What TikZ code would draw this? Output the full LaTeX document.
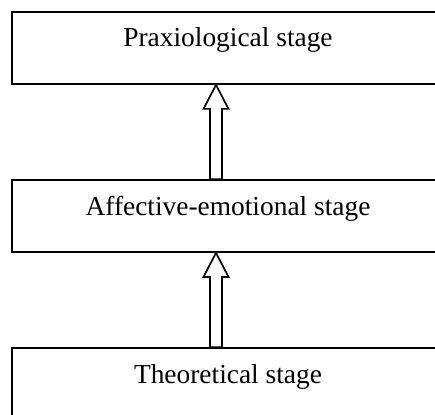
\documentclass[tikz,border=0pt]{standalone}
\usepackage{fontspec}
\setmainfont{Liberation Serif}
\usetikzlibrary{calc}
\begin{document}
\begin{tikzpicture}[x=1pt,y=-1pt,
  stagebox/.style={draw, line width=1.8pt, inner sep=0pt, minimum width=432pt,
    text height=35pt, text depth=37pt, anchor=base,
    font=\fontsize{27.4}{32}\selectfont},
  hollow/.style={draw, fill=white, line width=1.7pt, line join=miter}]
\useasboundingbox (0,0) rectangle (435,414);
\node[stagebox] (p) at (228,47) {Praxiological stage};
\node[stagebox] (a) at (228,215) {Affective-emotional stage};
\node[stagebox] (t) at (228,383) {Theoretical stage};
\coordinate (t1) at (216,0 |- p.south);
\coordinate (b1) at (216,0 |- a.north);
\coordinate (t2) at (216,0 |- a.south);
\coordinate (b2) at (216,0 |- t.north);
\foreach \bot/\top in {b1/t1,b2/t2}{
  \draw[hollow] let \p1=(\bot), \p2=(\top) in
    (\x2,\y2) -- (\x2+12.5pt,\y2-24pt) -- (\x2+6pt,\y2-24pt) -- (\x2+6pt,\y1)
    -- (\x2-6pt,\y1) -- (\x2-6pt,\y2-24pt) -- (\x2-12.5pt,\y2-24pt) -- cycle;
}
\end{tikzpicture}
\end{document}
